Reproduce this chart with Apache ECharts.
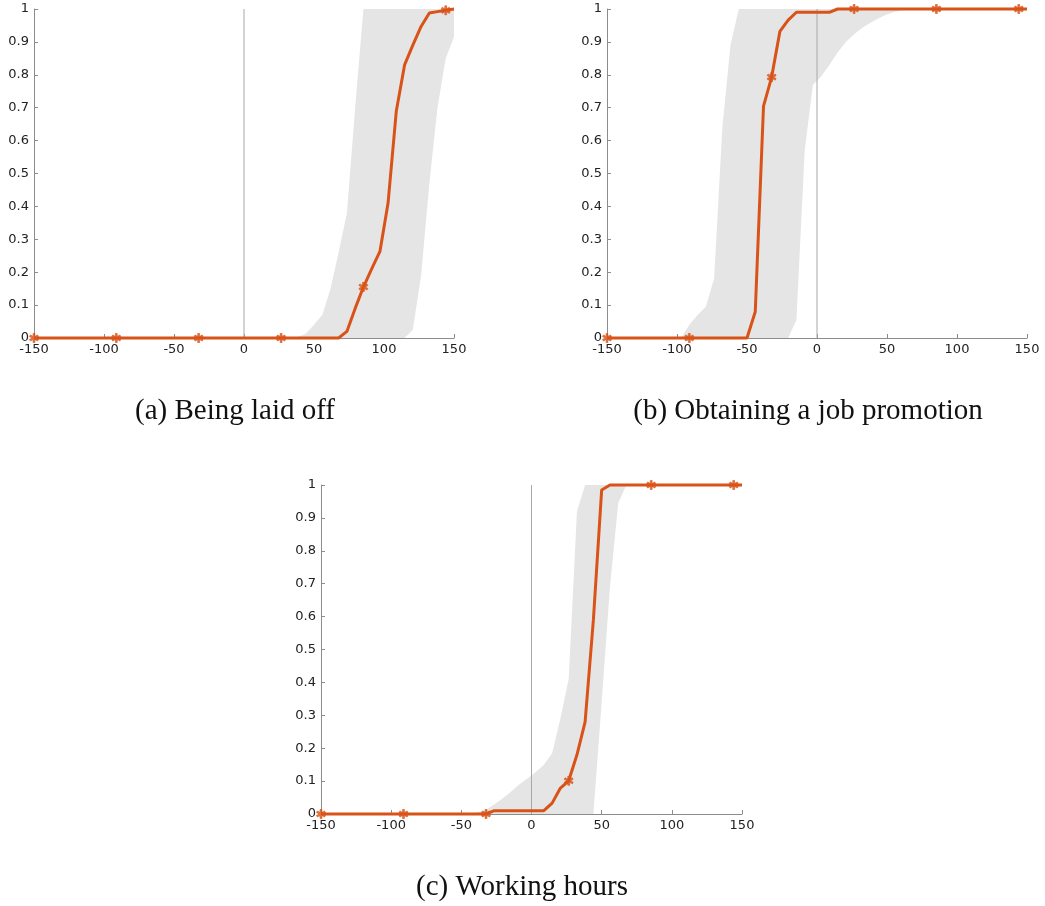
<!DOCTYPE html>
<html><head><meta charset="utf-8">
<script src="https://cdn.jsdelivr.net/npm/echarts@6/dist/echarts.min.js"></script>
<style>html,body{margin:0;padding:0;background:#fff}#c{width:1045px;height:906px}</style>
</head><body><div id="c"></div>
<script>
// shared x grid (horizontal positions of the estimated curve vertices)
const xs = [-150,-144.1,-138.2,-132.4,-126.5,-120.6,-114.7,-108.8,-102.9,-97.1,-91.2,-85.3,-79.4,-73.5,-67.6,-61.8,-55.9,-50.0,-44.1,-38.2,-32.4,-26.5,-20.6,-14.7,-8.8,-2.9,2.9,8.8,14.7,20.6,26.5,32.4,38.2,44.1,50.0,55.9,61.8,67.6,73.5,79.4,85.3,91.2,97.1,102.9,108.8,114.7,120.6,126.5,132.4,138.2,144.1,150];

// (a) Being laid off
const lineA  = [0,0,0,0,0,0,0,0,0,0,0,0,0,0,0,0,0,0,0,0,0,0,0,0,0,0,0,0,0,0,0,0,0,0,0,0,0,0,0.02,0.09,0.155,0.21,0.263,0.41,0.69,0.83,0.89,0.947,0.988,0.992,0.996,1.0];
const upperA = [0,0,0,0,0,0,0,0,0,0,0,0,0,0,0,0,0,0,0,0,0,0,0,0,0,0,0,0,0,0,0,0,0.003,0.013,0.04,0.07,0.15,0.26,0.38,0.70,1,1,1,1,1,1,1,1,1,1,1,1];
const lowerA = [0,0,0,0,0,0,0,0,0,0,0,0,0,0,0,0,0,0,0,0,0,0,0,0,0,0,0,0,0,0,0,0,0,0,0,0,0,0,0,0,0,0,0,0,0,0,0.025,0.19,0.47,0.70,0.85,0.915];

// (b) Obtaining a job promotion
const lineB  = [0,0,0,0,0,0,0,0,0,0,0,0,0,0,0,0,0,0,0.08,0.705,0.793,0.932,0.966,0.99,0.99,0.99,0.99,0.99,1,1,1,1,1,1,1,1,1,1,1,1,1,1,1,1,1,1,1,1,1,1,1,1];
const upperB = [0,0,0,0,0,0,0,0,0,0,0.04,0.07,0.095,0.18,0.64,0.89,1,1,1,1,1,1,1,1,1,1,1,1,1,1,1,1,1,1,1,1,1,1,1,1,1,1,1,1,1,1,1,1,1,1,1,1];
const lowerB = [0,0,0,0,0,0,0,0,0,0,0,0,0,0,0,0,0,0,0,0,0,0,0,0.055,0.57,0.77,0.795,0.83,0.868,0.90,0.923,0.943,0.958,0.972,0.984,0.992,0.998,1,1,1,1,1,1,1,1,1,1,1,1,1,1,1];

// (c) Working hours
const lineC  = [0,0,0,0,0,0,0,0,0,0,0,0,0,0,0,0,0,0,0,0,0,0.01,0.01,0.01,0.01,0.01,0.01,0.01,0.033,0.079,0.101,0.18,0.28,0.59,0.985,1,1,1,1,1,1,1,1,1,1,1,1,1,1,1,1,1];
const upperC = [0,0,0,0,0,0,0,0,0,0,0,0,0,0,0,0,0,0,0,0.005,0.012,0.03,0.047,0.068,0.09,0.108,0.127,0.15,0.185,0.29,0.41,0.92,1,1,1,1,1,1,1,1,1,1,1,1,1,1,1,1,1,1,1,1];
const lowerC = [0,0,0,0,0,0,0,0,0,0,0,0,0,0,0,0,0,0,0,0,0,0,0,0,0,0,0,0,0,0,0,0,0,0,0.34,0.69,0.945,1,1,1,1,1,1,1,1,1,1,1,1,1,1,1];

const markerEvery = 10;
const xMin = -150, xMax = 150, xStep = 50;
const yMin = 0, yMax = 1, yStep = 0.1;
const captions = ["(a) Being laid off", "(b) Obtaining a job promotion", "(c) Working hours"];

const panels = [
  {line: lineA, upper: upperA, lower: lowerA},
  {line: lineB, upper: upperB, lower: lowerB},
  {line: lineC, upper: upperC, lower: lowerC}
];

const gridBoxes = [
  {left: 34, top: 9, width: 420, height: 329},
  {left: 607, top: 9, width: 420, height: 329},
  {left: 321, top: 485, width: 421, height: 329}
];
const captionPos = [[235, 411], [808, 411], [522, 887]];

const ORANGE = '#D95319';
const AXIS = '#8c8c8c';
// asterisk-like marker
const STAR = 'path://M4,0 L6,0 L6,3.3 L8.9,1.6 L9.9,3.4 L7,5 L9.9,6.6 L8.9,8.4 L6,6.7 L6,10 L4,10 L4,6.7 L1.1,8.4 L0.1,6.6 L3,5 L0.1,3.4 L1.1,1.6 L4,3.3 Z';

const grid = [], xAxis = [], yAxis = [], series = [], graphic = [];
panels.forEach((p, i) => {
  grid.push(Object.assign({outerBoundsMode: 'none', containLabel: false}, gridBoxes[i]));
  xAxis.push({
    gridIndex: i, type: 'value', min: xMin, max: xMax, interval: xStep,
    axisLine: {show: true, onZero: false, lineStyle: {color: AXIS, width: 1}},
    axisTick: {show: true, inside: true, length: 4, lineStyle: {color: AXIS}},
    axisLabel: {color: '#222', fontSize: 13, fontFamily: 'DejaVu Sans', margin: 5},
    splitLine: {show: false}
  });
  yAxis.push({
    gridIndex: i, type: 'value', min: yMin, max: yMax, interval: yStep,
    axisLine: {show: true, onZero: false, lineStyle: {color: AXIS, width: 1}},
    axisTick: {show: true, inside: true, length: 4, lineStyle: {color: AXIS}},
    axisLabel: {color: '#222', fontSize: 13, fontFamily: 'DejaVu Sans', margin: 5},
    splitLine: {show: false}
  });
  const poly = xs.map((x, k) => [x, p.upper[k]])
    .concat(xs.map((x, k) => [x, p.lower[k]]).reverse());
  series.push({
    type: 'custom', xAxisIndex: i, yAxisIndex: i, silent: true, z: 1,
    data: [[0, 0]],
    renderItem: (params, api) => ({
      type: 'polygon',
      shape: {points: poly.map(pt => api.coord(pt))},
      style: {fill: '#e5e5e5'}
    })
  });
  series.push({
    type: 'line', xAxisIndex: i, yAxisIndex: i, silent: true, z: 2,
    data: [[0, yMin], [0, yMax]], symbol: 'none',
    lineStyle: {color: '#a8a8a8', width: 1}
  });
  series.push({
    type: 'line', xAxisIndex: i, yAxisIndex: i, z: 3, clip: false,
    data: xs.map((x, k) => [x, p.line[k]]), symbol: 'none',
    lineStyle: {color: ORANGE, width: 3}
  });
  series.push({
    type: 'scatter', xAxisIndex: i, yAxisIndex: i, z: 4, clip: false,
    data: xs.map((x, k) => [x, p.line[k]]).filter((d, k) => k % markerEvery === 0),
    symbol: STAR, symbolSize: 9,
    itemStyle: {color: ORANGE, borderColor: ORANGE, borderWidth: 0.8}
  });
  graphic.push({
    type: 'text', x: captionPos[i][0], y: captionPos[i][1],
    style: {text: captions[i], font: '29px "Liberation Serif"', fill: '#111', align: 'center', verticalAlign: 'middle'}
  });
});

const chart = echarts.init(document.getElementById('c'), null, {renderer: 'canvas'});
chart.setOption({animation: false, backgroundColor: '#fff', grid, xAxis, yAxis, series, graphic});
</script>
</body></html>
